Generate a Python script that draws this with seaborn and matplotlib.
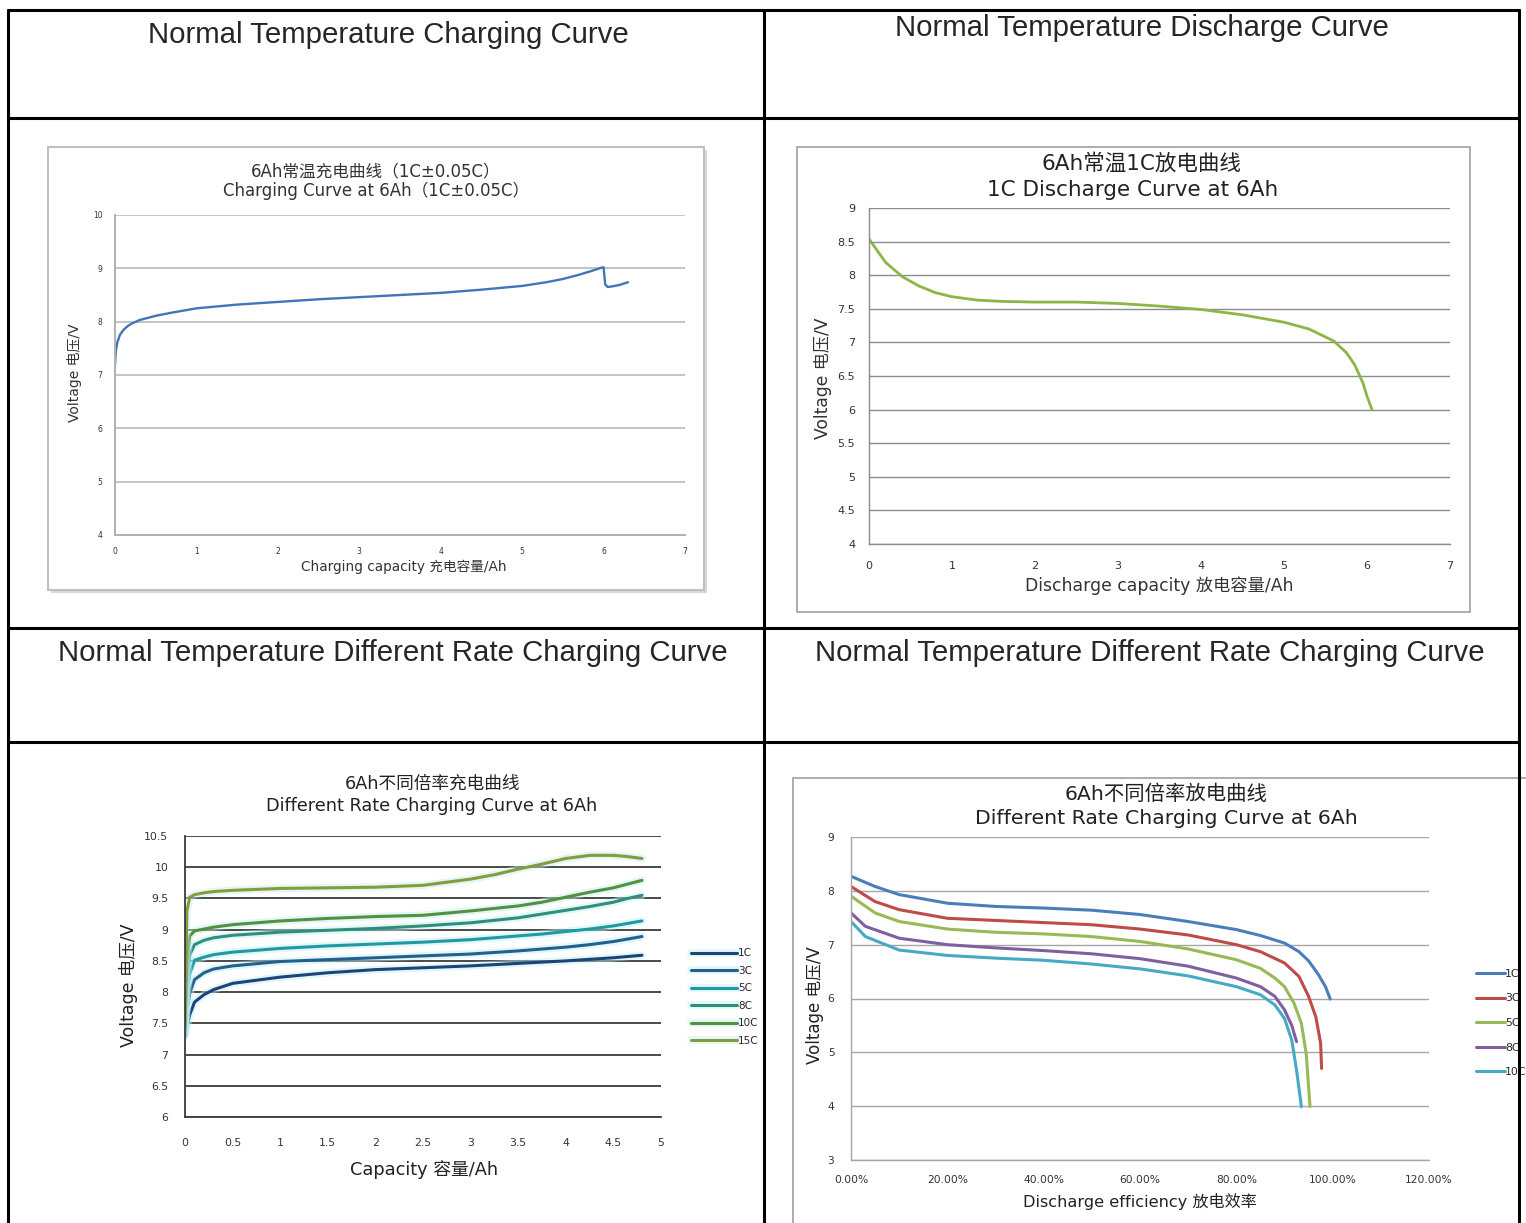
import matplotlib
matplotlib.use('Agg')
import matplotlib.pyplot as plt
import matplotlib.patheffects as pe
from matplotlib.lines import Line2D
from matplotlib.patches import Rectangle
from matplotlib.ticker import FuncFormatter, MultipleLocator
import seaborn as sns
import pandas as pd
import numpy as np

sns.set_style("white")
plt.rcParams['font.family'] = ['DejaVu Sans', 'Noto Sans CJK SC']
plt.rcParams['axes.unicode_minus'] = False

# ---- data ----
# top-left: 1C charging curve
chg_cap = [0, 0.01, 0.03, 0.06, 0.1, 0.15, 0.2, 0.3, 0.5, 0.7, 1.0, 1.5, 2.0, 2.5, 3.0,
           3.5, 4.0, 4.5, 5.0, 5.3, 5.5, 5.7, 5.85, 5.97, 6.0, 6.02, 6.05, 6.1, 6.2, 6.3]
chg_volt = [7.18, 7.45, 7.62, 7.75, 7.84, 7.91, 7.96, 8.03, 8.11, 8.17, 8.25, 8.32, 8.37, 8.42, 8.46,
            8.5, 8.54, 8.6, 8.67, 8.74, 8.8, 8.88, 8.95, 9.01, 9.02, 8.7, 8.65, 8.66, 8.69, 8.74]

# top-right: 1C discharge curve
dis_cap = [0, 0.2, 0.4, 0.6, 0.8, 1.0, 1.3, 1.6, 2.0, 2.5, 3.0, 3.5, 4.0, 4.5, 5.0,
           5.3, 5.6, 5.75, 5.85, 5.95, 6.0, 6.06]
dis_volt = [8.54, 8.19, 7.98, 7.84, 7.74, 7.68, 7.63, 7.61, 7.6, 7.6, 7.58, 7.54, 7.49, 7.41, 7.3,
            7.2, 7.02, 6.85, 6.67, 6.4, 6.2, 6.0]

# bottom-left: charging at different rates
rate_cap = [0, 0.02, 0.05, 0.1, 0.2, 0.3, 0.5, 1, 1.5, 2, 2.5, 3, 3.25, 3.5, 3.75, 4, 4.25, 4.5, 4.65, 4.8]
chg_rates = ['1C', '3C', '5C', '8C', '10C', '15C']
chg_1c = [7.29, 7.45, 7.64, 7.84, 7.96, 8.04, 8.14, 8.24, 8.31, 8.36, 8.39, 8.42, 8.44, 8.46, 8.48, 8.5, 8.525, 8.55, 8.57, 8.59]
chg_3c = [7.32, 7.7, 7.99, 8.2, 8.31, 8.37, 8.42, 8.49, 8.52, 8.55, 8.58, 8.61, 8.635, 8.66, 8.69, 8.72, 8.76, 8.81, 8.85, 8.89]
chg_5c = [7.35, 7.95, 8.3, 8.51, 8.56, 8.6, 8.64, 8.7, 8.74, 8.77, 8.8, 8.84, 8.87, 8.9, 8.93, 8.97, 9.01, 9.06, 9.1, 9.14]
chg_8c = [7.38, 8.2, 8.6, 8.76, 8.83, 8.87, 8.91, 8.96, 8.99, 9.02, 9.06, 9.11, 9.15, 9.19, 9.25, 9.31, 9.37, 9.44, 9.5, 9.55]
chg_10c = [7.4, 8.5, 8.9, 8.98, 9.01, 9.04, 9.08, 9.14, 9.18, 9.21, 9.23, 9.3, 9.34, 9.38, 9.44, 9.52, 9.6, 9.67, 9.73, 9.79]
chg_15c = [7.45, 9.3, 9.52, 9.56, 9.59, 9.61, 9.63, 9.66, 9.67, 9.68, 9.71, 9.81, 9.88, 9.97, 10.05, 10.14, 10.19, 10.19, 10.17, 10.14]
chg_colors = ['#1d4478', '#226090', '#1f9aa3', '#2f8f79', '#55903f', '#8a9a3a']

# bottom-right: discharge at different rates (efficiency as fraction)
dis_rates = ['1C', '3C', '5C', '8C', '10C']
eff_1c = [0, 0.05, 0.1, 0.2, 0.3, 0.4, 0.5, 0.6, 0.7, 0.8, 0.85, 0.9, 0.93, 0.95, 0.97, 0.985, 0.995]
v_1c = [8.27, 8.08, 7.93, 7.77, 7.71, 7.68, 7.64, 7.56, 7.43, 7.28, 7.17, 7.03, 6.87, 6.7, 6.45, 6.22, 5.99]
eff_3c = [0, 0.05, 0.1, 0.2, 0.3, 0.4, 0.5, 0.6, 0.7, 0.8, 0.85, 0.9, 0.93, 0.95, 0.965, 0.975, 0.977]
v_3c = [8.08, 7.8, 7.65, 7.49, 7.45, 7.41, 7.37, 7.29, 7.18, 7.0, 6.87, 6.66, 6.41, 6.04, 5.66, 5.17, 4.7]
eff_5c = [0, 0.05, 0.1, 0.2, 0.3, 0.4, 0.5, 0.6, 0.7, 0.8, 0.85, 0.88, 0.9, 0.92, 0.935, 0.945, 0.95, 0.953]
v_5c = [7.9, 7.59, 7.43, 7.29, 7.23, 7.2, 7.15, 7.06, 6.92, 6.72, 6.56, 6.38, 6.22, 5.91, 5.54, 4.98, 4.36, 3.99]
eff_8c = [0, 0.03, 0.1, 0.2, 0.3, 0.4, 0.5, 0.6, 0.7, 0.8, 0.85, 0.88, 0.9, 0.915, 0.925]
v_8c = [7.59, 7.34, 7.12, 7.0, 6.94, 6.89, 6.83, 6.74, 6.6, 6.38, 6.22, 6.04, 5.79, 5.5, 5.2]
eff_10c = [0, 0.03, 0.1, 0.2, 0.3, 0.4, 0.5, 0.6, 0.7, 0.8, 0.85, 0.88, 0.9, 0.915, 0.925, 0.932, 0.935]
v_10c = [7.43, 7.15, 6.9, 6.8, 6.75, 6.71, 6.64, 6.55, 6.42, 6.22, 6.07, 5.88, 5.63, 5.23, 4.67, 4.2, 3.99]
dis_colors = ['#4a7ebb', '#be4b48', '#98b954', '#7d60a0', '#46aac5']

headers = ['Normal Temperature Charging Curve', 'Normal Temperature Discharge Curve',
           'Normal Temperature Different Rate Charging Curve',
           'Normal Temperature Different Rate Charging Curve']

W, H = 1526, 1223
fig = plt.figure(figsize=(W / 100, H / 100), dpi=100)


def fx(x):
    return x / W


def fy(y):
    return 1 - y / H


def axes_px(l, t, r, b):
    return fig.add_axes([fx(l), fy(b), (r - l) / W, (b - t) / H])


def text_px(x, y, s, size, **kw):
    fig.text(fx(x), fy(y), s, fontsize=size, ha=kw.pop('ha', 'center'),
             va=kw.pop('va', 'center'), **kw)


def line_px(x0, y0, x1, y1, **kw):
    fig.add_artist(Line2D([fx(x0), fx(x1)], [fy(y0), fy(y1)], transform=fig.transFigure, **kw))


def rect_px(l, t, r, b, **kw):
    fig.add_artist(Rectangle((fx(l), fy(b)), (r - l) / W, (b - t) / H,
                             transform=fig.transFigure, zorder=-2, **kw))


def style_axes(ax, grid_color, spine_color, tick_size, grid_lw=1.0, xpad=6, ypad=8):
    ax.set_facecolor('none')
    ax.yaxis.grid(True, color=grid_color, lw=grid_lw)
    ax.xaxis.grid(False)
    for s in ['top', 'right']:
        ax.spines[s].set_visible(False)
    for s in ['left', 'bottom']:
        ax.spines[s].set_color(spine_color)
        ax.spines[s].set_linewidth(grid_lw)
    ax.tick_params(length=0, labelsize=tick_size, colors='#333333')
    ax.tick_params(axis='x', pad=xpad)
    ax.tick_params(axis='y', pad=ypad)
    ax.set_xlabel('')
    ax.set_ylabel('')


gfmt = FuncFormatter(lambda v, p: '%g' % v)

# ---- chart frames ----
rect_px(51, 150, 707, 593, fill=True, facecolor='#d9d9d9', edgecolor='none')
rect_px(48, 147, 704, 590, fill=True, facecolor='white', edgecolor='#bfbfbf', lw=1.5)
rect_px(797, 147, 1470, 612, fill=False, edgecolor='#a0a0a0', lw=1.2)
rect_px(793, 778, 1530, 1230, fill=False, edgecolor='#a0a0a0', lw=1.2)

# ---- top-left chart ----
ax1 = axes_px(115, 215, 685, 535)
sns.lineplot(x=chg_cap, y=chg_volt, ax=ax1, sort=False, estimator=None, color='#4275b8', lw=1.7)
ax1.set_xlim(0, 7)
ax1.set_ylim(4, 10)
ax1.xaxis.set_major_locator(MultipleLocator(1))
ax1.yaxis.set_major_locator(MultipleLocator(1))
style_axes(ax1, '#c4c4c4', '#b0b0b0', 5.5, grid_lw=1.4, xpad=9, ypad=9)
text_px(376, 171, '6Ah常温充电曲线（1C±0.05C）', 12, color='#333333')
text_px(376, 191, 'Charging Curve at 6Ah（1C±0.05C）', 12, color='#333333')
text_px(404, 567, 'Charging capacity 充电容量/Ah', 9.8, color='#333333')
text_px(75, 373, 'Voltage 电压/V', 10, rotation=90, color='#333333')

# ---- top-right chart ----
ax2 = axes_px(869, 208, 1450, 544)
sns.lineplot(x=dis_cap, y=dis_volt, ax=ax2, sort=False, estimator=None, color='#8db548', lw=2.0)
ax2.set_xlim(0, 7)
ax2.set_ylim(4, 9)
ax2.xaxis.set_major_locator(MultipleLocator(1))
ax2.yaxis.set_major_locator(MultipleLocator(0.5))
ax2.yaxis.set_major_formatter(gfmt)
style_axes(ax2, '#8c8c8c', '#8c8c8c', 8, xpad=12, ypad=10)
text_px(1141, 163, '6Ah常温1C放电曲线', 15.5, color='#222222')
text_px(1133, 190, '1C Discharge Curve at 6Ah', 15.5, color='#222222')
text_px(1159, 586, 'Discharge capacity 放电容量/Ah', 12.4, color='#333333')
text_px(823, 378, 'Voltage 电压/V', 12.3, rotation=90, color='#333333')

# ---- bottom-left chart ----
ax3 = axes_px(185, 836, 661, 1117)
rows = []
for rate, vals in zip(chg_rates, [chg_1c, chg_3c, chg_5c, chg_8c, chg_10c, chg_15c]):
    for c, v in zip(rate_cap, vals):
        rows.append({'cap': c, 'volt': v, 'rate': rate})
df3 = pd.DataFrame(rows)
sns.lineplot(data=df3, x='cap', y='volt', hue='rate', hue_order=chg_rates,
             palette=dict(zip(chg_rates, chg_colors)), ax=ax3, sort=False, estimator=None, lw=2.2)
for ln in ax3.get_lines():
    ln.set_path_effects([pe.Stroke(linewidth=5.5, foreground='#bfeef2', alpha=0.45), pe.Normal()])
ax3.set_xlim(0, 5)
ax3.set_ylim(6, 10.5)
ax3.xaxis.set_major_locator(MultipleLocator(0.5))
ax3.yaxis.set_major_locator(MultipleLocator(0.5))
ax3.xaxis.set_major_formatter(gfmt)
ax3.yaxis.set_major_formatter(gfmt)
style_axes(ax3, '#3c3c3c', '#3c3c3c', 7.8, grid_lw=1.3, xpad=15, ypad=12)
ax3.legend(loc='center left', bbox_to_anchor=(fx(686), fy(997)), bbox_transform=fig.transFigure,
           frameon=False, fontsize=7.5, handlelength=4.4, labelspacing=0.72, handletextpad=0.1,
           borderpad=0)
text_px(432, 784, '6Ah不同倍率充电曲线', 12.7, color='#222222')
text_px(432, 806, 'Different Rate Charging Curve at 6Ah', 12.7, color='#222222')
text_px(424, 1170, 'Capacity 容量/Ah', 12.8, color='#222222')
text_px(128, 985, 'Voltage 电压/V', 12.5, rotation=90, color='#222222')

# ---- bottom-right chart ----
ax4 = axes_px(851, 837, 1429, 1160)
rows = []
for rate, xs, ys in zip(dis_rates, [eff_1c, eff_3c, eff_5c, eff_8c, eff_10c],
                        [v_1c, v_3c, v_5c, v_8c, v_10c]):
    for c, v in zip(xs, ys):
        rows.append({'eff': c, 'volt': v, 'rate': rate})
df4 = pd.DataFrame(rows)
sns.lineplot(data=df4, x='eff', y='volt', hue='rate', hue_order=dis_rates,
             palette=dict(zip(dis_rates, dis_colors)), ax=ax4, sort=False, estimator=None, lw=2.2)
ax4.set_xlim(0, 1.2)
ax4.set_ylim(3, 9)
ax4.xaxis.set_major_locator(MultipleLocator(0.2))
ax4.yaxis.set_major_locator(MultipleLocator(1))
ax4.xaxis.set_major_formatter(FuncFormatter(lambda v, p: '%.2f%%' % (v * 100)))
style_axes(ax4, '#a6a6a6', '#a6a6a6', 7.7, xpad=11, ypad=12)
ax4.legend(loc='center left', bbox_to_anchor=(fx(1471), fy(1023)), bbox_transform=fig.transFigure,
           frameon=False, fontsize=7.8, handlelength=2.6, labelspacing=1.35, handletextpad=0.05,
           borderpad=0)
text_px(1166, 794, '6Ah不同倍率放电曲线', 14.7, color='#222222')
text_px(1166, 818, 'Different Rate Charging Curve at 6Ah', 14.7, color='#222222')
text_px(1140, 1202, 'Discharge efficiency 放电效率', 11.6, color='#222222')
text_px(815, 1005, 'Voltage 电压/V', 12, rotation=90, color='#222222')

# ---- table grid ----
kw = dict(color='black', lw=2.2)
line_px(8, 10, 1519, 10, **kw)
line_px(8, 10, 8, H + 2, **kw)
line_px(1519, 10, 1519, H + 2, **kw)
line_px(764, 10, 764, H + 2, **kw)
for y in [118, 628, 742]:
    line_px(8, y, 1519, y, **kw)

# ---- header texts ----
hfont = ['Liberation Sans', 'DejaVu Sans']
text_px(388, 35, headers[0], 21.2, family=hfont)
text_px(1142, 28, headers[1], 21.2, family=hfont)
text_px(393, 653, headers[2], 21.2, family=hfont)
text_px(1150, 653, headers[3], 21.2, family=hfont)

fig.savefig('out.png', dpi=100, facecolor='white')
plt.close(fig)
